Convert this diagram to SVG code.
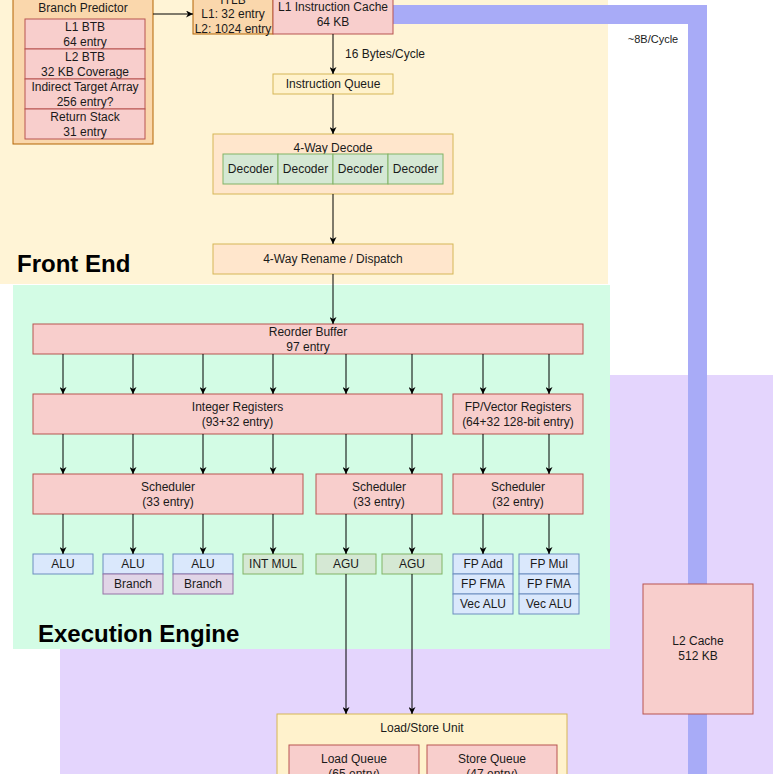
<svg xmlns="http://www.w3.org/2000/svg" width="780" height="774" viewBox="0 0 780 774">
<defs>
<marker id="arr" viewBox="0 0 10 10" refX="10" refY="5" markerWidth="7" markerHeight="7" markerUnits="userSpaceOnUse" orient="auto">
<path d="M0,0 L10,5 L0,10 L3,5 Z" fill="#000"/>
</marker>
<style>
text{font-family:"Liberation Sans",Arial,sans-serif;font-size:12px;fill:#1a1a1a;text-anchor:middle}
.title{font-size:24px;font-weight:bold;text-anchor:start;fill:#000}
.pink{fill:#f8cecc;stroke:#b85450;stroke-width:1}
.orange{fill:#fad7ac;stroke:#b46504;stroke-width:1}
.peach{fill:#ffe6cc;stroke:#d6b656;stroke-width:1}
.yellow{fill:#fff2cc;stroke:#d6b656;stroke-width:1}
.green{fill:#d5e8d4;stroke:#82b366;stroke-width:1}
.blue{fill:#dae8fc;stroke:#6c8ebf;stroke-width:1}
.purple{fill:#e1d5e7;stroke:#9673a6;stroke-width:1}
.conn line,.conn path{stroke:#000;stroke-width:1;fill:none}
</style>
</defs>
<rect width="780" height="774" fill="#ffffff"/>
<g id="backgrounds">
<rect x="0" y="-10" width="608" height="294" fill="#fff4d6"/>
<rect x="60" y="375" width="713" height="410" fill="#e4d5fd"/>
<rect x="13" y="285" width="597" height="364" fill="#d3fce5"/>
<path d="M393,14.5 H697.5 V790" stroke="#a8abf7" stroke-width="19" fill="none"/>
<text class="title" x="17" y="272">Front End</text>
<text class="title" x="38" y="642">Execution Engine</text>
<text x="653" y="43" style="font-size:11px">~8B/Cycle</text>
</g>
<g id="branch-predictor">
<rect class="orange" x="13" y="-10" width="140" height="154"/>
<text x="83" y="12">Branch Predictor</text>
<rect class="pink" x="25" y="19" width="120" height="30"/>
<text x="85" y="31">L1 BTB</text><text x="85" y="46">64 entry</text>
<rect class="pink" x="25" y="49" width="120" height="30"/>
<text x="85" y="61">L2 BTB</text><text x="85" y="76">32 KB Coverage</text>
<rect class="pink" x="25" y="79" width="120" height="30"/>
<text x="85" y="91">Indirect Target Array</text><text x="85" y="106">256 entry?</text>
<rect class="pink" x="25" y="109" width="120" height="30"/>
<text x="85" y="121">Return Stack</text><text x="85" y="136">31 entry</text>
</g>
<g id="itlb">
<rect class="orange" x="193" y="-16" width="80" height="50"/>
<text x="233" y="3.5">ITLB</text><text x="233" y="18">L1: 32 entry</text><text x="233" y="32.5">L2: 1024 entry</text>
</g>
<g id="l1i">
<rect class="pink" x="273" y="-6" width="120" height="40"/>
<text x="333" y="11">L1 Instruction Cache</text><text x="333" y="26">64 KB</text>
</g>
<g id="iq">
<rect class="yellow" x="273" y="74" width="120" height="20"/>
<text x="333" y="88">Instruction Queue</text>
</g>
<g id="decode">
<rect class="peach" x="213" y="134" width="240" height="60"/>
<text x="333" y="152">4-Way Decode</text>
<rect class="green" x="223" y="154" width="55" height="30"/><text x="250.5" y="173">Decoder</text>
<rect class="green" x="278" y="154" width="55" height="30"/><text x="305.5" y="173">Decoder</text>
<rect class="green" x="333" y="154" width="55" height="30"/><text x="360.5" y="173">Decoder</text>
<rect class="green" x="388" y="154" width="55" height="30"/><text x="415.5" y="173">Decoder</text>
</g>
<g id="rename">
<rect class="peach" x="213" y="244" width="240" height="30"/>
<text x="333" y="263">4-Way Rename / Dispatch</text>
</g>
<g id="rob">
<rect class="pink" x="33" y="324" width="550" height="30"/>
<text x="308" y="336">Reorder Buffer</text><text x="308" y="351">97 entry</text>
</g>
<g id="int-regs">
<rect class="pink" x="33" y="394" width="409" height="40"/>
<text x="237.5" y="411">Integer Registers</text><text x="237.5" y="426">(93+32 entry)</text>
</g>
<g id="fp-regs">
<rect class="pink" x="453" y="394" width="130" height="40"/>
<text x="518" y="411">FP/Vector Registers</text><text x="518" y="426">(64+32 128-bit entry)</text>
</g>
<g id="sched-int">
<rect class="pink" x="33" y="474" width="270" height="40"/>
<text x="168" y="491">Scheduler</text><text x="168" y="506">(33 entry)</text>
</g>
<g id="sched-agu">
<rect class="pink" x="316" y="474" width="126" height="40"/>
<text x="379" y="491">Scheduler</text><text x="379" y="506">(33 entry)</text>
</g>
<g id="sched-fp">
<rect class="pink" x="453" y="474" width="130" height="40"/>
<text x="518" y="491">Scheduler</text><text x="518" y="506">(32 entry)</text>
</g>
<g id="alu0">
<rect class="blue" x="33" y="554" width="60" height="20"/><text x="63" y="568">ALU</text>
</g>
<g id="alu1">
<rect class="blue" x="103" y="554" width="60" height="20"/><text x="133" y="568">ALU</text>
<rect class="purple" x="103" y="574" width="60" height="20"/><text x="133" y="588">Branch</text>
</g>
<g id="alu2">
<rect class="blue" x="173" y="554" width="60" height="20"/><text x="203" y="568">ALU</text>
<rect class="purple" x="173" y="574" width="60" height="20"/><text x="203" y="588">Branch</text>
</g>
<g id="intmul">
<rect class="green" x="243" y="554" width="60" height="20"/><text x="273" y="568">INT MUL</text>
</g>
<g id="agu0">
<rect class="green" x="316" y="554" width="60" height="20"/><text x="346" y="568">AGU</text>
</g>
<g id="agu1">
<rect class="green" x="382" y="554" width="60" height="20"/><text x="412" y="568">AGU</text>
</g>
<g id="fp0">
<rect class="blue" x="453" y="554" width="60" height="20"/><text x="483" y="568">FP Add</text>
<rect class="blue" x="453" y="574" width="60" height="20"/><text x="483" y="588">FP FMA</text>
<rect class="blue" x="453" y="594" width="60" height="20"/><text x="483" y="608">Vec ALU</text>
</g>
<g id="fp1">
<rect class="blue" x="519" y="554" width="60" height="20"/><text x="549" y="568">FP Mul</text>
<rect class="blue" x="519" y="574" width="60" height="20"/><text x="549" y="588">FP FMA</text>
<rect class="blue" x="519" y="594" width="60" height="20"/><text x="549" y="608">Vec ALU</text>
</g>
<g id="lsu">
<rect class="yellow" x="277" y="714" width="290" height="80"/>
<text x="422" y="732">Load/Store Unit</text>
<rect class="pink" x="289" y="745" width="130" height="40"/>
<text x="354" y="763">Load Queue</text><text x="354" y="778">(65 entry)</text>
<rect class="pink" x="427" y="745" width="130" height="40"/>
<text x="492" y="763">Store Queue</text><text x="492" y="778">(47 entry)</text>
</g>
<g id="l2">
<rect class="pink" x="643" y="584" width="110" height="130"/>
<text x="698" y="645">L2 Cache</text><text x="698" y="660">512 KB</text>
</g>
<g id="connectors" class="conn">
<line x1="153" y1="14" x2="193" y2="14" marker-end="url(#arr)"/>
<line x1="333" y1="34" x2="333" y2="74" marker-end="url(#arr)"/>
<text x="385" y="58">16 Bytes/Cycle</text>
<line x1="333" y1="94" x2="333" y2="134" marker-end="url(#arr)"/>
<line x1="333" y1="194" x2="333" y2="244" marker-end="url(#arr)"/>
<line x1="333" y1="274" x2="333" y2="324" marker-end="url(#arr)"/>
<line x1="63" y1="354" x2="63" y2="394" marker-end="url(#arr)"/>
<line x1="133" y1="354" x2="133" y2="394" marker-end="url(#arr)"/>
<line x1="203" y1="354" x2="203" y2="394" marker-end="url(#arr)"/>
<line x1="273" y1="354" x2="273" y2="394" marker-end="url(#arr)"/>
<line x1="346" y1="354" x2="346" y2="394" marker-end="url(#arr)"/>
<line x1="412" y1="354" x2="412" y2="394" marker-end="url(#arr)"/>
<line x1="483" y1="354" x2="483" y2="394" marker-end="url(#arr)"/>
<line x1="549" y1="354" x2="549" y2="394" marker-end="url(#arr)"/>
<line x1="63" y1="434" x2="63" y2="474" marker-end="url(#arr)"/>
<line x1="133" y1="434" x2="133" y2="474" marker-end="url(#arr)"/>
<line x1="203" y1="434" x2="203" y2="474" marker-end="url(#arr)"/>
<line x1="273" y1="434" x2="273" y2="474" marker-end="url(#arr)"/>
<line x1="346" y1="434" x2="346" y2="474" marker-end="url(#arr)"/>
<line x1="412" y1="434" x2="412" y2="474" marker-end="url(#arr)"/>
<line x1="483" y1="434" x2="483" y2="474" marker-end="url(#arr)"/>
<line x1="549" y1="434" x2="549" y2="474" marker-end="url(#arr)"/>
<line x1="63" y1="514" x2="63" y2="554" marker-end="url(#arr)"/>
<line x1="133" y1="514" x2="133" y2="554" marker-end="url(#arr)"/>
<line x1="203" y1="514" x2="203" y2="554" marker-end="url(#arr)"/>
<line x1="273" y1="514" x2="273" y2="554" marker-end="url(#arr)"/>
<line x1="346" y1="514" x2="346" y2="554" marker-end="url(#arr)"/>
<line x1="412" y1="514" x2="412" y2="554" marker-end="url(#arr)"/>
<line x1="483" y1="514" x2="483" y2="554" marker-end="url(#arr)"/>
<line x1="549" y1="514" x2="549" y2="554" marker-end="url(#arr)"/>
<line x1="346" y1="574" x2="346" y2="714" marker-end="url(#arr)"/>
<line x1="412" y1="574" x2="412" y2="714" marker-end="url(#arr)"/>
</g>
</svg>
